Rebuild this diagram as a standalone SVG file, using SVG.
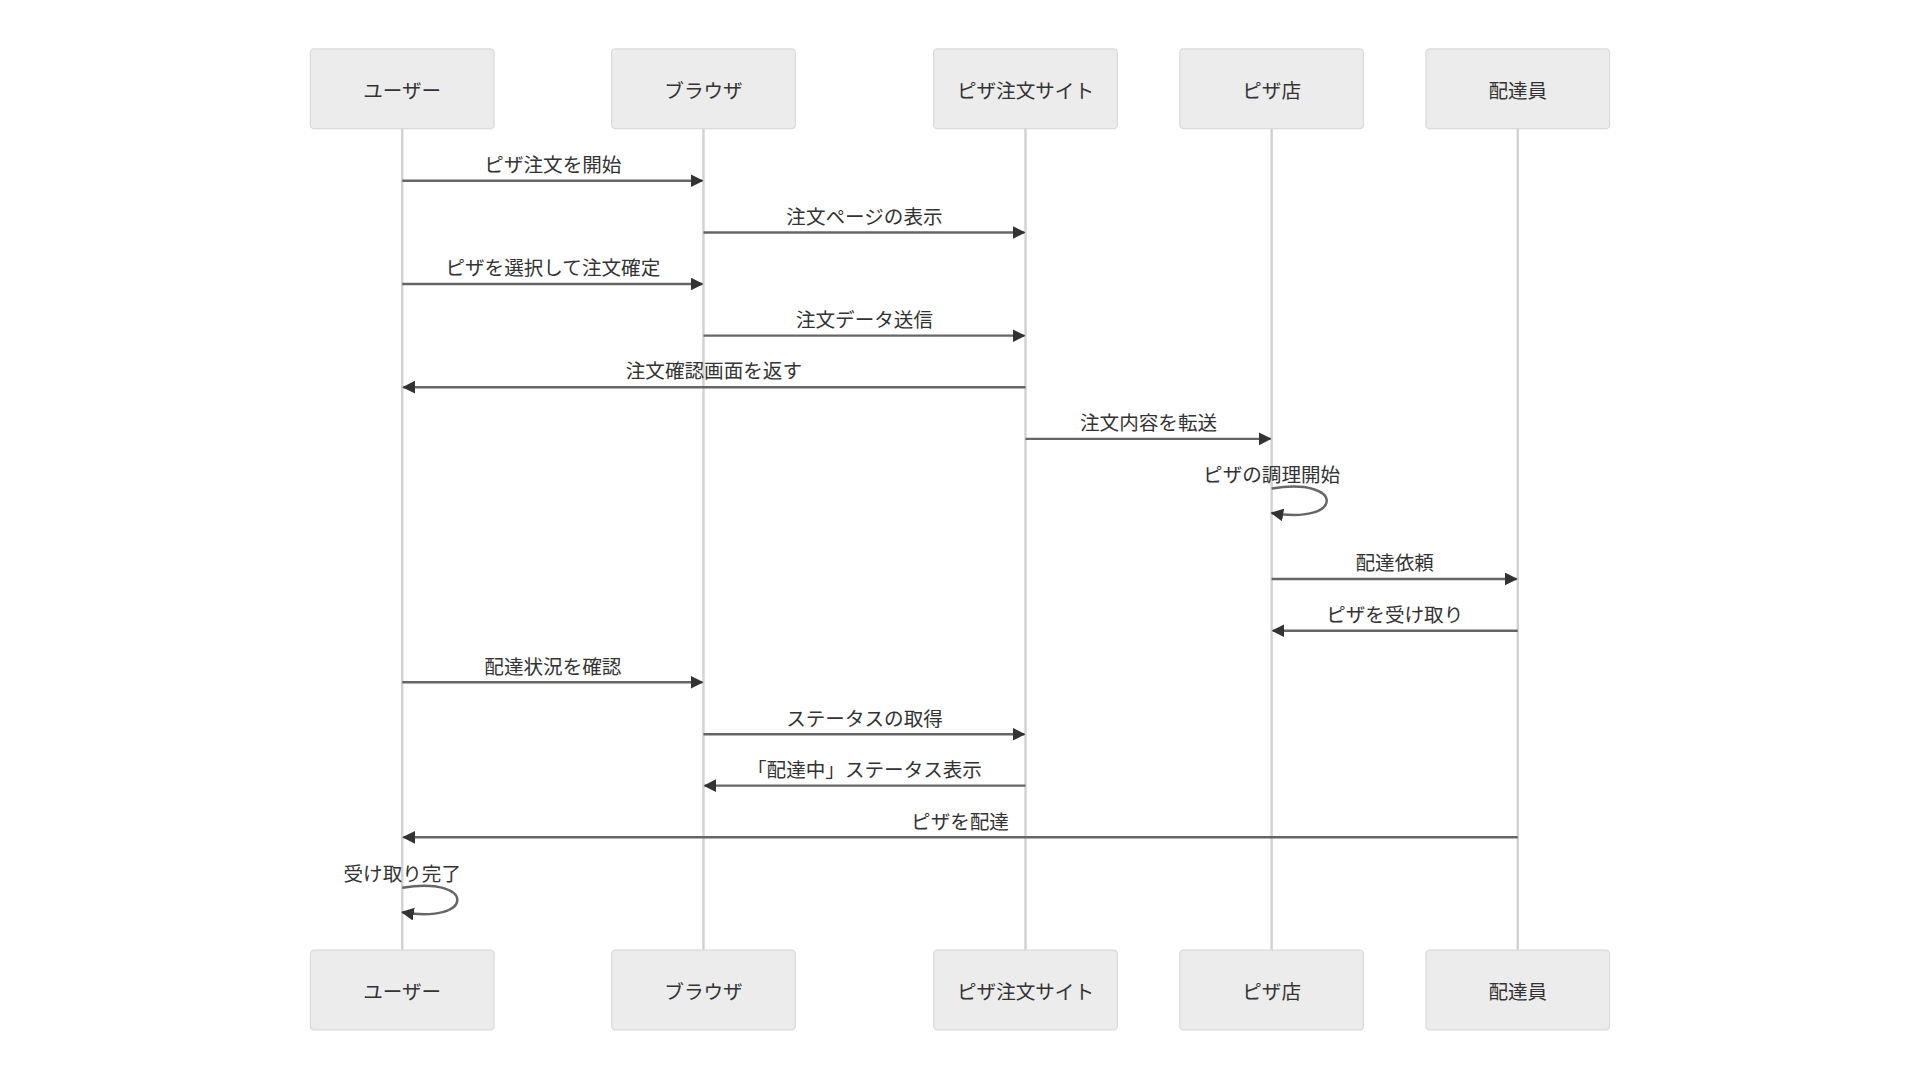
<svg xmlns="http://www.w3.org/2000/svg" width="1920" height="1080" viewBox="0 0 1920 1080">
<style>
  .actor { fill: #ececec; stroke: #dadada; stroke-width: 1; }
  .atext { font-family: "Noto Sans CJK JP", "Noto Sans", sans-serif; font-size: 16px; fill: #333333; text-anchor: middle; dominant-baseline: central; }
  .life { stroke: #d2d2d2; stroke-width: 2; }
  .msg { stroke: #666666; stroke-width: 2; fill: none; marker-end: url(#arrow); }
  .mtext { font-family: "Noto Sans CJK JP", "Noto Sans", sans-serif; font-size: 16px; fill: #333333; text-anchor: middle; }
</style>
<defs>
  <marker id="arrow" markerUnits="userSpaceOnUse" markerWidth="13" markerHeight="13" refX="9.5" refY="5.25" orient="auto">
    <path d="M0,0 L10.5,5.25 L0,10.5 z" fill="#333333"/>
  </marker>
</defs>
<rect x="0" y="0" width="1920" height="1080" fill="#ffffff"/>
<g transform="scale(1.2244898)">
  <g id="lifelines">
    <line class="life" x1="328.5" y1="105" x2="328.5" y2="776"/>
    <line class="life" x1="574.5" y1="105" x2="574.5" y2="776"/>
    <line class="life" x1="837.5" y1="105" x2="837.5" y2="776"/>
    <line class="life" x1="1038.5" y1="105" x2="1038.5" y2="776"/>
    <line class="life" x1="1239.5" y1="105" x2="1239.5" y2="776"/>
  </g>
  <g id="user">
    <rect class="actor" x="253.5" y="40" width="150" height="65" rx="3"/>
    <text class="atext" x="328.5" y="72.8">ユーザー</text>
    <rect class="actor" x="253.5" y="776" width="150" height="65" rx="3"/>
    <text class="atext" x="328.5" y="808.8">ユーザー</text>
  </g>
  <g id="browser">
    <rect class="actor" x="499.5" y="40" width="150" height="65" rx="3"/>
    <text class="atext" x="574.5" y="72.8">ブラウザ</text>
    <rect class="actor" x="499.5" y="776" width="150" height="65" rx="3"/>
    <text class="atext" x="574.5" y="808.8">ブラウザ</text>
  </g>
  <g id="site">
    <rect class="actor" x="762.5" y="40" width="150" height="65" rx="3"/>
    <text class="atext" x="837.5" y="72.8">ピザ注文サイト</text>
    <rect class="actor" x="762.5" y="776" width="150" height="65" rx="3"/>
    <text class="atext" x="837.5" y="808.8">ピザ注文サイト</text>
  </g>
  <g id="shop">
    <rect class="actor" x="963.5" y="40" width="150" height="65" rx="3"/>
    <text class="atext" x="1038.5" y="72.8">ピザ店</text>
    <rect class="actor" x="963.5" y="776" width="150" height="65" rx="3"/>
    <text class="atext" x="1038.5" y="808.8">ピザ店</text>
  </g>
  <g id="courier">
    <rect class="actor" x="1164.5" y="40" width="150" height="65" rx="3"/>
    <text class="atext" x="1239.5" y="72.8">配達員</text>
    <rect class="actor" x="1164.5" y="776" width="150" height="65" rx="3"/>
    <text class="atext" x="1239.5" y="808.8">配達員</text>
  </g>
  <g id="messages">
    <line class="msg" x1="328.5" y1="147.6" x2="573.5" y2="147.6"/>
    <text class="mtext" x="451.5" y="140.5">ピザ注文を開始</text>
    <line class="msg" x1="574.5" y1="189.8" x2="836.5" y2="189.8"/>
    <text class="mtext" x="706" y="182.7">注文ページの表示</text>
    <line class="msg" x1="328.5" y1="231.9" x2="573.5" y2="231.9"/>
    <text class="mtext" x="451.5" y="224.8">ピザを選択して注文確定</text>
    <line class="msg" x1="574.5" y1="274.1" x2="836.5" y2="274.1"/>
    <text class="mtext" x="706" y="267">注文データ送信</text>
    <line class="msg" x1="837.5" y1="316.2" x2="329.5" y2="316.2"/>
    <text class="mtext" x="583" y="309.1">注文確認画面を返す</text>
    <line class="msg" x1="837.5" y1="358.4" x2="1037.5" y2="358.4"/>
    <text class="mtext" x="938" y="351.3">注文内容を転送</text>
    <path class="msg" d="M1038.5,399 C1098.5,389 1098.5,429 1038.5,419"/>
    <text class="mtext" x="1038.5" y="393.5">ピザの調理開始</text>
    <line class="msg" x1="1038.5" y1="472.8" x2="1238.5" y2="472.8"/>
    <text class="mtext" x="1139" y="465.7">配達依頼</text>
    <line class="msg" x1="1239.5" y1="515.1" x2="1039.5" y2="515.1"/>
    <text class="mtext" x="1139" y="508">ピザを受け取り</text>
    <line class="msg" x1="328.5" y1="557.2" x2="573.5" y2="557.2"/>
    <text class="mtext" x="451.5" y="550.1">配達状況を確認</text>
    <line class="msg" x1="574.5" y1="599.7" x2="836.5" y2="599.7"/>
    <text class="mtext" x="706" y="592.6">ステータスの取得</text>
    <line class="msg" x1="837.5" y1="641.6" x2="575.5" y2="641.6"/>
    <text class="mtext" x="706" y="634.5">「配達中」ステータス表示</text>
    <line class="msg" x1="1239.5" y1="683.8" x2="329.5" y2="683.8"/>
    <text class="mtext" x="784" y="676.7">ピザを配達</text>
    <path class="msg" d="M328.5,725 C388.5,715 388.5,755 328.5,745"/>
    <text class="mtext" x="328.5" y="719.3">受け取り完了</text>
  </g>
</g>
</svg>
